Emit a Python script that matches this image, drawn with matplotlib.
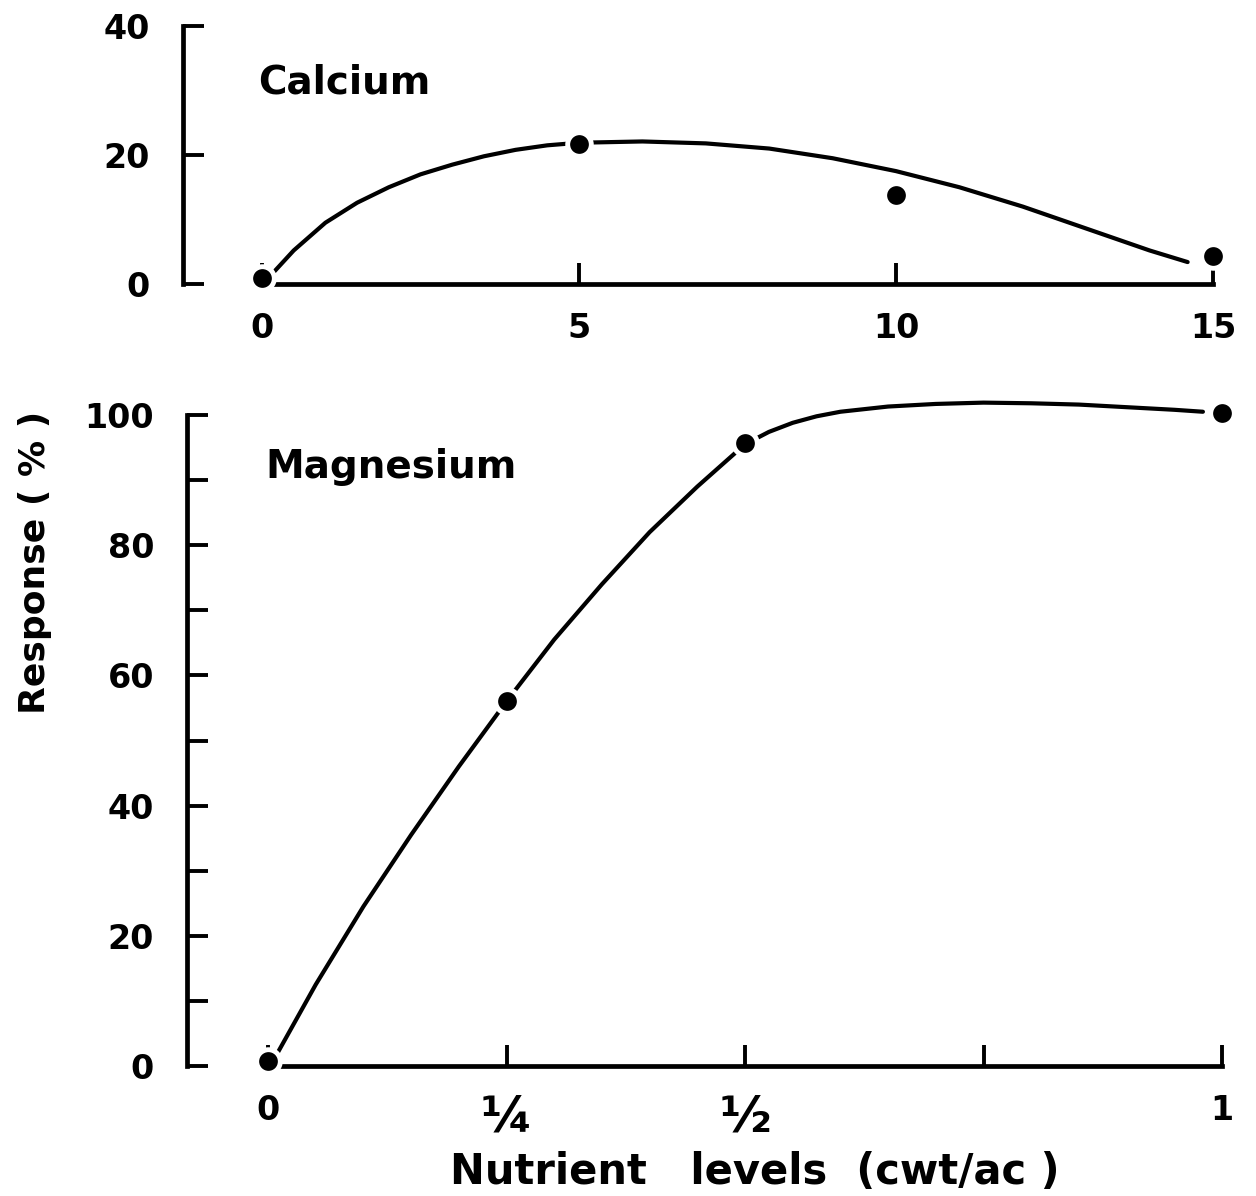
import numpy as np
import matplotlib
matplotlib.use('Agg')
import matplotlib.pyplot as plt

# Calcium (top panel): observed points and the hand-drawn response curve
ca_x = [0, 5, 10, 15]
ca_y = [1, 21.7, 13.8, 4.3]
ca_curve_x = [0.2, 0.5, 1, 1.5, 2, 2.5, 3, 3.5, 4, 4.5, 5, 6, 7, 8, 9, 10,
              11, 12, 13, 14, 14.6]
ca_curve_y = [2, 5.2, 9.5, 12.6, 15, 17, 18.5, 19.8, 20.8, 21.5, 21.9, 22.1,
              21.8, 21, 19.5, 17.5, 15, 12, 8.6, 5.2, 3.4]
ca_xticks = [0, 5, 10, 15]
ca_yticks = [0, 20, 40]

# Magnesium (bottom panel)
mg_x = [0, 0.25, 0.5, 1.0]
mg_y = [0.8, 56, 95.7, 100.3]
mg_curve_x = [0.01, 0.05, 0.1, 0.15, 0.2, 0.25, 0.3, 0.35, 0.4, 0.45, 0.5,
              0.525, 0.55, 0.575, 0.6, 0.65, 0.7, 0.75, 0.8, 0.85, 0.9, 0.95, 0.98]
mg_curve_y = [2, 12.5, 24.5, 35.5, 46, 56, 65.5, 74, 82, 89, 95.5,
              97.4, 98.8, 99.8, 100.5, 101.3, 101.7, 101.9, 101.8, 101.6, 101.2, 100.8, 100.5]
mg_xticks = [0, 0.25, 0.5, 0.75, 1.0]
mg_xlabels = ['0', '¼', '½', '', '1']
mg_yticks = [0, 20, 40, 60, 80, 100]
mg_yminor = [10, 30, 50, 70, 90]

W, H = 1256, 1196
fig = plt.figure(figsize=(W / 100, H / 100), dpi=100)
plt.rcParams['font.family'] = 'DejaVu Sans'
fs = 24

def box(x0, x1, ytop, ybot):
    return [x0 / W, 1 - ybot / H, (x1 - x0) / W, (ybot - ytop) / H]

def style(ax, outward):
    for s in ['top', 'right']:
        ax.spines[s].set_visible(False)
    ax.spines['left'].set_position(('outward', outward))
    ax.spines['left'].set_linewidth(3.4)
    ax.spines['bottom'].set_linewidth(3.4)
    ax.tick_params(direction='in', length=15, width=2.8, labelsize=fs)
    ax.tick_params(axis='x', pad=20)
    ax.tick_params(axis='y', pad=24)
    ax.tick_params(which='minor', direction='in', length=15, width=2.8)
    for lab in ax.get_xticklabels() + ax.get_yticklabels():
        lab.set_fontweight('bold')

# top panel
ax1 = fig.add_axes(box(262, 1213, 26, 284))
ax1.plot(ca_curve_x, ca_curve_y, color='black', lw=3, clip_on=False, solid_capstyle='round')
ax1.plot(ca_x, ca_y, 'o', color='black', ms=17, mec='white', mew=3.5, clip_on=False, zorder=5)
ax1.set_xlim(0, 15)
ax1.set_ylim(0, 40)
ax1.set_xticks(ca_xticks)
ax1.set_yticks(ca_yticks)
style(ax1, 57)
fig.text(258 / W, 1 - 82 / H, 'Calcium', fontsize=28, fontweight='bold', va='center', ha='left')

# bottom panel
ax2 = fig.add_axes(box(268, 1222, 415, 1066))
ax2.plot(mg_curve_x, mg_curve_y, color='black', lw=3, clip_on=False, solid_capstyle='round')
ax2.plot(mg_x, mg_y, 'o', color='black', ms=17, mec='white', mew=3.5, clip_on=False, zorder=5)
ax2.set_xlim(0, 1)
ax2.set_ylim(0, 100)
ax2.set_xticks(mg_xticks)
ax2.set_xticklabels(mg_xlabels)
ax2.set_yticks(mg_yticks)
ax2.set_yticks(mg_yminor, minor=True)
style(ax2, 58)
for lab in ax2.get_xticklabels():
    if lab.get_text() in ('¼', '½'):
        lab.set_fontsize(36)
fig.text(265 / W, 1 - 467 / H, 'Magnesium', fontsize=28, fontweight='bold', va='center', ha='left')

fig.text(755 / W, 1 - 1172 / H, 'Nutrient   levels  (cwt/ac )', fontsize=30, fontweight='bold',
         ha='center', va='center')
fig.text(35 / W, 1 - 562 / H, 'Response ( % )', fontsize=26, fontweight='bold',
         rotation=90, ha='center', va='center')

fig.savefig('out.png', dpi=100, facecolor='white')
